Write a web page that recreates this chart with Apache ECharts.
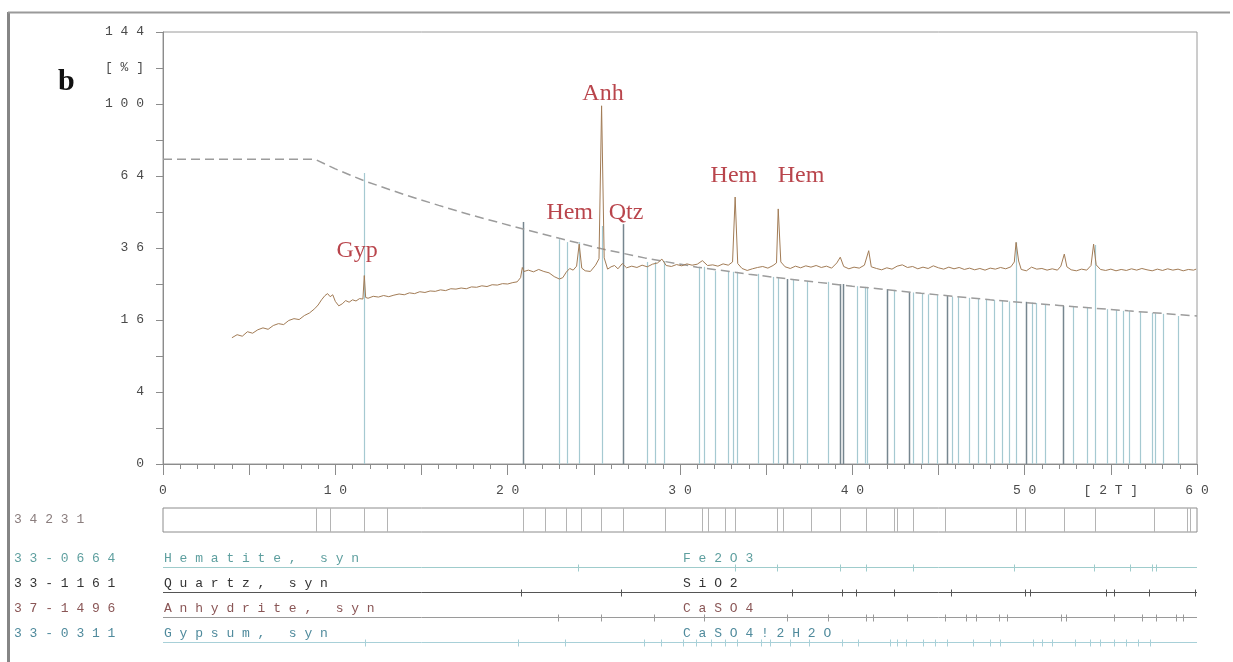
<!DOCTYPE html>
<html><head><meta charset="utf-8">
<script src="https://cdn.jsdelivr.net/npm/echarts@6/dist/echarts.min.js"></script>
<style>html,body{margin:0;padding:0;background:#fff}#c{width:1233px;height:662px}</style>
</head><body><div id="c"></div>
<script>
// ---------- DATA ----------
// measured XRD pattern: [2theta, intensity %]
const measuredPattern = [
[4.0,12.3],[4.3,12.9],[4.6,12.6],[4.9,13.5],[5.2,13.2],[5.5,13.9],[5.8,14.3],[6.1,14.0],[6.4,14.8],[6.7,15.2],
[7.0,15.0],[7.3,15.9],[7.6,16.3],[7.9,16.1],[8.2,17.0],[8.5,17.6],[8.8,18.6],[9.0,19.5],[9.2,20.8],[9.4,21.9],
[9.55,22.4],[9.7,21.6],[9.85,22.1],[10.0,20.4],[10.2,19.3],[10.4,19.8],[10.6,20.6],[10.8,20.2],[11.0,20.8],[11.2,20.5],
[11.4,21.1],[11.6,21.0],[11.68,27.4],[11.76,21.4],[11.9,21.2],[12.2,21.7],[12.5,21.5],[12.8,21.9],[13.1,21.6],[13.4,22.0],
[13.7,22.3],[14.0,22.1],[14.3,22.6],[14.6,22.4],[14.9,22.9],[15.2,22.7],[15.5,23.1],[15.8,23.0],[16.1,23.4],[16.4,23.2],
[16.7,23.7],[17.0,23.6],[17.3,23.9],[17.6,23.7],[17.9,24.2],[18.2,24.1],[18.5,24.5],[18.8,24.3],[19.1,24.8],[19.4,24.7],
[19.7,25.1],[20.0,25.0],[20.3,25.4],[20.55,25.6],[20.75,26.8],[20.85,29.8],[20.95,28.6],[21.2,29.0],[21.5,28.5],[21.8,29.2],
[22.1,28.6],[22.4,28.2],[22.7,27.1],[23.0,26.4],[23.2,26.8],[23.4,28.4],[23.6,29.5],[23.8,29.0],[24.0,30.2],[24.15,37.3],
[24.3,29.6],[24.5,28.8],[24.8,28.6],[25.1,30.5],[25.3,32.5],[25.45,99.0],[25.6,32.8],[25.8,29.3],[26.0,30.0],[26.2,30.4],
[26.4,29.4],[26.65,31.0],[26.9,29.7],[27.2,30.2],[27.5,29.8],[27.8,30.5],[28.1,30.0],[28.4,30.8],[28.7,31.2],[28.95,32.4],
[29.2,30.4],[29.5,30.1],[29.8,30.7],[30.1,30.3],[30.4,30.9],[30.7,30.5],[31.0,30.8],[31.3,31.9],[31.6,30.4],[31.9,30.6],
[32.2,30.2],[32.5,30.9],[32.8,30.5],[33.05,31.5],[33.2,55.0],[33.35,31.0],[33.6,29.5],[33.9,28.9],[34.2,29.4],[34.5,29.8],
[34.8,30.1],[35.1,29.6],[35.4,30.4],[35.6,31.2],[35.7,50.2],[35.85,31.5],[36.1,30.0],[36.4,29.5],[36.7,30.2],[37.0,29.7],
[37.3,30.3],[37.6,29.9],[37.9,30.4],[38.2,29.8],[38.5,30.2],[38.8,29.6],[39.1,31.2],[39.3,33.0],[39.5,30.1],[39.8,29.4],
[40.1,29.9],[40.4,29.6],[40.7,30.5],[40.95,35.1],[41.1,30.0],[41.4,29.5],[41.7,29.1],[42.0,29.7],[42.3,29.3],[42.6,30.2],
[42.9,30.6],[43.2,29.8],[43.5,30.1],[43.8,29.4],[44.1,29.9],[44.4,29.5],[44.7,30.3],[45.0,29.7],[45.3,29.3],[45.6,29.9],
[45.9,29.4],[46.2,29.8],[46.5,29.2],[46.8,29.6],[47.1,29.1],[47.4,29.5],[47.7,29.0],[48.0,29.6],[48.3,29.3],[48.6,29.8],
[48.9,29.4],[49.2,30.0],[49.4,31.5],[49.5,37.9],[49.65,31.8],[49.8,29.2],[50.1,28.8],[50.4,29.9],[50.7,29.3],[51.0,29.5],
[51.3,29.0],[51.6,29.4],[51.9,29.0],[52.1,30.2],[52.3,34.0],[52.45,30.0],[52.7,29.1],[53.0,28.8],[53.3,29.3],[53.6,29.0],
[53.85,30.4],[54.0,37.3],[54.15,30.6],[54.4,29.2],[54.7,28.9],[55.0,29.3],[55.3,28.8],[55.6,29.2],[55.9,28.9],[56.2,29.4],
[56.5,29.0],[56.8,29.5],[57.1,29.1],[57.4,28.8],[57.7,29.3],[58.0,28.9],[58.3,29.4],[58.6,29.0],[58.9,29.3],[59.2,28.8],
[59.5,29.2],[59.8,29.0],[59.95,29.3]
];
// dashed envelope curve: [2theta, %]
const dashedCurve = [[0,71.7],[8.8,71.7],[10,67.2],[11.7,61.8],[14,56.0],[16,51.6],[18,47.6],[20.9,42.6],[23,39.3],
[25.4,35.8],[28,32.7],[31,29.9],[34,27.8],[37,26.0],[40,24.4],[44,22.5],[48,20.8],[52,19.4],[56,18.1],[60,16.9]];
// reference sticks: [2theta, %]
const sticksLight = [[11.68,65.3],[23.0,39],[23.43,38],[24.16,38],[25.46,43.7],[28.07,31.5],[28.55,31.5],[29.07,31.8],
[31.1,30],[31.39,30],[32.03,28.7],[32.78,28.7],[33.07,28.5],[33.31,28.5],[34.53,27.9],[35.4,27],[35.69,27],[36.56,26.2],
[37.37,25.8],[38.59,25.6],[40.27,24.4],[40.73,24.2],[40.85,24.2],[42.42,23.4],[43.52,22.7],[44.04,22.3],[44.39,22.2],
[44.91,22.0],[45.78,21.6],[46.13,21.5],[46.77,21.3],[47.29,21.1],[47.76,21.0],[48.22,20.8],[48.69,20.5],[49.09,20.4],
[49.5,37.9],[50.43,20.1],[50.66,20.0],[51.18,19.5],[52.81,19.1],[53.62,19.0],[54.08,37.0],[54.78,18.5],[55.3,18.3],
[55.71,18.1],[56.06,18.0],[56.69,17.8],[57.39,17.6],[57.56,17.5],[58.03,17.4],[58.9,16.9]];
const sticksDark = [[20.87,45.2],[26.71,44.4],[36.21,26.4],[39.28,25.0],[39.46,25.0],[42.01,23.6],[43.29,22.8],
[45.49,21.8],[50.08,20.3],[52.23,19.3]];
// phase annotations: [2theta, %, text]
const annotations = [[11.26,36,'Gyp'],[23.6,49.8,'Hem'],[26.87,49.8,'Qtz'],[25.53,107.4,'Anh'],[33.13,65.3,'Hem'],[37.02,65.3,'Hem']];
// peak list box
const peakListName = '34231';
const peakList = [8.85,9.7,11.69,12.97,20.89,22.17,23.36,24.24,25.42,26.7,29.13,31.3,31.6,32.6,33.2,35.6,36.0,37.6,
39.3,40.8,42.4,42.6,43.5,45.4,49.5,50.0,52.3,54.07,57.5,59.4,59.6];
// phases
const phaseCodes = ['33-0664','33-1161','37-1496','33-0311'];
const phaseNames = ['Hematite, syn','Quartz, syn','Anhydrite, syn','Gypsum, syn'];
const phaseFormulas = ['Fe2O3','SiO2','CaSO4','CaSO4!2H2O'];
const phaseTicks = [
 [24.1,33.2,35.6,39.3,40.8,43.5,49.4,54.0,56.1,57.4,57.6],
 [20.8,26.6,36.5,39.4,40.2,42.4,45.7,50.0,50.3,54.7,55.2,57.2,59.9],
 [22.9,25.4,28.5,31.4,36.2,38.6,40.8,41.2,43.2,45.4,46.6,47.2,48.5,49.0,52.1,52.4,55.2,56.8,57.6,58.8,59.2],
 [11.7,20.6,23.3,27.9,28.9,30.2,30.9,31.8,32.6,33.3,34.7,35.2,36.4,37.5,39.4,40.3,42.2,42.6,43.1,44.1,44.8,45.5,47.0,48.0,
  48.55,50.5,51.0,51.6,52.9,53.8,54.4,55.2,55.9,56.6,57.3]
];
const phaseTextColors = ['#5e9f9f','#333333','#8a5656','#4f8a9c'];
const phaseLineColors = ['#9fcccc','#555555','#9a9a9a','#a8d0d8'];
const xUnitLabel = '[2T]';
const yUnitLabel = '[%]';

// ---------- CHART ----------
const MONO = '"Liberation Mono", "DejaVu Sans Mono", monospace';
const spaced = s => String(s).split('').join(' ');
const sq = v => Math.sqrt(v);
const chart = echarts.init(document.getElementById('c'));

function stickSeries(data, color, width, xi, yi, z) {
  return {
    type: 'custom', xAxisIndex: xi, yAxisIndex: yi, silent: true, z: z, animation: false,
    encode: {x: 0, y: 1},
    data: data,
    renderItem: function (params, api) {
      const p0 = api.coord([api.value(0), api.value(2)]);
      const p1 = api.coord([api.value(0), api.value(1)]);
      const x = Math.round(p0[0]) + 0.5;
      return {type: 'line', shape: {x1: x, y1: p0[1], x2: x, y2: p1[1]},
        style: {stroke: color, lineWidth: width}};
    }
  };
}

const series = [];
series.push(stickSeries(sticksLight.map(d => [d[0], sq(d[1]), 0]), '#a5c9d1', 1.2, 0, 0, 1));
series.push(stickSeries(sticksDark.map(d => [d[0], sq(d[1]), 0]), '#76868f', 1.5, 0, 0, 2));
series.push({type: 'line', xAxisIndex: 0, yAxisIndex: 0, z: 3, symbol: 'none', silent: true,
  data: dashedCurve.map(d => [d[0], sq(d[1])]),
  lineStyle: {color: '#9c9c9c', width: 1.5, type: [9, 5]}});
series.push({type: 'line', xAxisIndex: 0, yAxisIndex: 0, z: 4, symbol: 'none', silent: true,
  data: measuredPattern.map(d => [d[0], sq(d[1])]),
  lineStyle: {color: '#a27c56', width: 1}});
series.push({type: 'scatter', xAxisIndex: 0, yAxisIndex: 0, z: 5, symbolSize: 1, silent: true,
  itemStyle: {color: 'rgba(0,0,0,0)'},
  data: annotations.map(a => ({value: [a[0], sq(a[1])], name: a[2]})),
  label: {show: true, position: 'inside', offset: [0, 3], formatter: p => p.name,
    fontFamily: '"Liberation Serif", "DejaVu Serif", serif', fontSize: 24, color: '#a8161f'}});
// peak list box
series.push(stickSeries(peakList.map(x => [x, 1, 0]), '#b4b4b4', 1, 1, 1, 2));
// phase rows
phaseTicks.forEach((ticks, i) => {
  const yl = i + 0.9;
  series.push({type: 'line', xAxisIndex: 2, yAxisIndex: 2, symbol: 'none', silent: true, z: 2,
    data: [[0, yl], [60, yl]], lineStyle: {color: phaseLineColors[i], width: 1}});
  series.push({
    type: 'custom', xAxisIndex: 2, yAxisIndex: 2, silent: true, z: 3, encode: {x: 0, y: 1},
    data: ticks.map(t => [t, yl]),
    renderItem: function (params, api) {
      const p = api.coord([api.value(0), api.value(1)]);
      const x = Math.round(p[0]) + 0.5;
      return {type: 'line', shape: {x1: x, y1: p[1] - 3, x2: x, y2: p[1] + 4},
        style: {stroke: phaseLineColors[i], lineWidth: 1}};
    }
  });
});

const graphics = [
  {type: 'line', shape: {x1: 8.5, y1: 12, x2: 8.5, y2: 662}, style: {stroke: '#858585', lineWidth: 3}},
  {type: 'line', shape: {x1: 8, y1: 12.5, x2: 1230, y2: 12.5}, style: {stroke: '#9a9a9a', lineWidth: 2}},
  {type: 'text', x: 58, y: 82, style: {text: 'b', font: 'bold 30px "Liberation Serif", serif', fill: '#111', textVerticalAlign: 'middle'}},
  {type: 'text', x: 14, y: 520, style: {text: spaced(peakListName), font: '13px ' + MONO, fill: '#8a7d7d', textVerticalAlign: 'middle'}}
];
phaseCodes.forEach((c, i) => {
  const y = 545 + (i + 0.9) * 25 - 9;
  graphics.push({type: 'text', x: 14, y: y, style: {text: spaced(c), font: '13px ' + MONO, fill: phaseTextColors[i], textVerticalAlign: 'middle'}});
  graphics.push({type: 'text', x: 164, y: y, style: {text: spaced(phaseNames[i]), font: '13px ' + MONO, fill: phaseTextColors[i], textVerticalAlign: 'middle'}});
  graphics.push({type: 'text', x: 683, y: y, style: {text: spaced(phaseFormulas[i]), font: '13px ' + MONO, fill: phaseTextColors[i], textVerticalAlign: 'middle'}});
});

const axisGray = '#8c8c8c';
chart.setOption({
  animation: false,
  backgroundColor: '#fff',
  grid: [
    {left: 163, top: 32, width: 1034, height: 432, show: true, borderColor: '#9a9a9a', borderWidth: 1, backgroundColor: 'transparent'},
    {left: 163, top: 508, width: 1034, height: 24, show: true, borderColor: '#8c8c8c', borderWidth: 1, backgroundColor: 'transparent'},
    {left: 163, top: 545, width: 1034, height: 100, show: false}
  ],
  xAxis: [
    {type: 'value', gridIndex: 0, min: 0, max: 60, interval: 5,
      axisLine: {lineStyle: {color: axisGray}},
      axisTick: {show: true, length: 11, lineStyle: {color: axisGray}},
      minorTick: {show: true, splitNumber: 5, length: 5, lineStyle: {color: axisGray}},
      splitLine: {show: false},
      axisLabel: {margin: 20, fontFamily: MONO, fontSize: 13, color: '#4a4a4a',
        formatter: v => v === 55 ? spaced(xUnitLabel) : (v % 10 === 0 ? spaced(v) : '')}},
    {type: 'value', gridIndex: 1, min: 0, max: 60, show: false},
    {type: 'value', gridIndex: 2, min: 0, max: 60, show: false}
  ],
  yAxis: [
    {type: 'value', gridIndex: 0, min: 0, max: 12, interval: 1,
      axisLine: {show: true, lineStyle: {color: axisGray}},
      axisTick: {show: true, length: 7, lineStyle: {color: axisGray}},
      splitLine: {show: false},
      axisLabel: {margin: 19, fontFamily: MONO, fontSize: 13, color: '#4a4a4a',
        formatter: v => v === 11 ? spaced(yUnitLabel) : (v % 2 === 0 ? spaced(v * v) : '')}},
    {type: 'value', gridIndex: 1, min: 0, max: 1, show: false},
    {type: 'value', gridIndex: 2, min: 0, max: 4, inverse: true, show: false}
  ],
  graphic: graphics,
  series: series
});
</script></body></html>
